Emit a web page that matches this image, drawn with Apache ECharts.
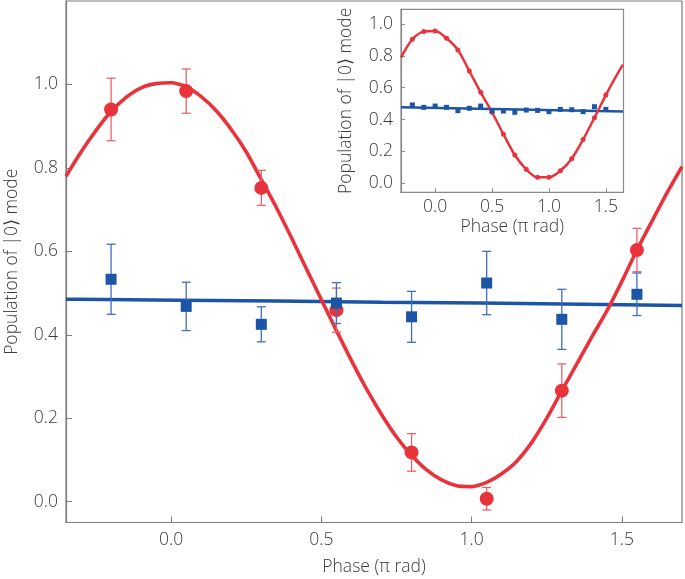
<!DOCTYPE html>
<html>
<head>
<meta charset="utf-8">
<script src="https://cdn.jsdelivr.net/npm/echarts@6/dist/echarts.min.js"></script>
<style>
html,body{margin:0;padding:0;background:#fff;}
#chart{width:685px;height:579px;}
</style>
</head>
<body>
<div id="chart"></div>
<script>
// ---- Main panel data ----
const phaseMain = [-0.2, 0.05, 0.3, 0.55, 0.8, 1.05, 1.3, 1.55];
const redMain   = [0.940, 0.984, 0.752, 0.459, 0.118, 0.007, 0.266, 0.603];
const redErr    = [0.075, 0.053, 0.042, 0.053, 0.045, 0.027, 0.064, 0.052];
const blueMain  = [0.533, 0.468, 0.425, 0.476, 0.443, 0.524, 0.437, 0.497];
const blueErr   = [0.084, 0.058, 0.042, 0.049, 0.061, 0.076, 0.072, 0.051];

const redFitX = [-0.35,-0.30,-0.25,-0.20,-0.15,-0.10,-0.05,0.00,0.05,0.10,0.15,0.20,0.25,0.30,0.35,0.40,0.45,0.50,0.55,0.60,0.65,0.70,0.75,0.80,0.85,0.90,0.95,1.00,1.05,1.10,1.15,1.20,1.25,1.30,1.35,1.40,1.45,1.50,1.55,1.60,1.65,1.70];
const redFitY = [0.780,0.838,0.890,0.935,0.969,0.992,1.002,1.004,0.995,0.971,0.937,0.892,0.838,0.772,0.705,0.633,0.558,0.484,0.410,0.338,0.270,0.209,0.155,0.111,0.076,0.052,0.038,0.036,0.046,0.067,0.097,0.142,0.200,0.266,0.330,0.395,0.457,0.528,0.603,0.672,0.740,0.803];

const blueFitX = [-0.35,-0.31,0.03,0.35,0.70,1.03,1.37,1.70];
const blueFitY = [0.485,0.483,0.481,0.478,0.476,0.473,0.470,0.469];

const mainXTicks = [0, 0.5, 1.0, 1.5];
const mainYTicks = [0, 0.2, 0.4, 0.6, 0.8, 1.0];

// ---- Inset data ----
const phaseInset = [-0.2,-0.1,0.0,0.1,0.2,0.3,0.4,0.5,0.6,0.7,0.8,0.9,1.0,1.1,1.2,1.3,1.4,1.5];
const redInset   = [0.904,0.952,0.956,0.910,0.837,0.705,0.571,0.446,0.308,0.178,0.088,0.038,0.038,0.079,0.155,0.275,0.412,0.554];
const blueInset  = [0.492,0.477,0.485,0.477,0.456,0.471,0.485,0.454,0.454,0.446,0.460,0.458,0.450,0.464,0.462,0.450,0.481,0.464];
const insetFitX  = [-0.3,-0.2,-0.1,0.0,0.1,0.2,0.3,0.4,0.5,0.6,0.7,0.8,0.9,1.0,1.1,1.2,1.3,1.4,1.5,1.6,1.65];
const insetFitRed= [0.789,0.904,0.952,0.956,0.910,0.837,0.705,0.571,0.446,0.308,0.178,0.088,0.038,0.038,0.079,0.155,0.275,0.412,0.554,0.685,0.745];
const insetBlueFitX = [-0.3, 1.65];
const insetBlueFitY = [0.478, 0.451];

const insetXTicks = [0, 0.5, 1.0, 1.5];
const insetYTicks = [0, 0.2, 0.4, 0.6, 0.8, 1.0];

// ---- Styles ----
const RED = '#e8333c', RED_ERR = '#e8626a';
const BLUE = '#1c55a6', BLUE_ERR = '#3d6fbd';
const AX = '#7d7d7d';
const TXT = '#3a3a3a';
const FONT = "'Open Sans', 'DejaVu Sans', sans-serif";

function zip(xs, ys){ return xs.map((x,i)=>[x, ys[i]]); }
function errData(xs, ys, es){ return xs.map((x,i)=>[x, ys[i]-es[i], ys[i]+es[i]]); }

function errRender(color, half){
  return function(params, api){
    const x = api.value(0), lo = api.value(1), hi = api.value(2);
    const t = api.coord([x, hi]), b = api.coord([x, lo]);
    const st = {stroke: color, lineWidth: 1.3};
    return {type:'group', children:[
      {type:'line', shape:{x1:t[0],y1:t[1],x2:b[0],y2:b[1]}, style:st},
      {type:'line', shape:{x1:t[0]-half,y1:t[1],x2:t[0]+half,y2:t[1]}, style:st},
      {type:'line', shape:{x1:b[0]-half,y1:b[1],x2:b[0]+half,y2:b[1]}, style:st}
    ]};
  };
}

function lbl(size){ return {fontSize:size, color:TXT, fontFamily:FONT, fontWeight:300}; }

const chart = echarts.init(document.getElementById('chart'), null, {renderer:'canvas'});
const option = {
  animation:false,
  backgroundColor:'#ffffff',
  grid:[
    {left:66, right:3, top:1, bottom:56.5, containLabel:false, outerBoundsMode:'none',
     show:true, borderColor:AX, borderWidth:1.2, backgroundColor:'transparent'},
    {left:401, top:9.3, width:222.5, height:183, containLabel:false, outerBoundsMode:'none',
     show:true, borderColor:'#8a8a8a', borderWidth:1.2, backgroundColor:'#ffffff', z:5}
  ],
  xAxis:[
    {type:'value', gridIndex:0, min:-0.35, max:1.70,
     axisLine:{show:true, onZero:false, lineStyle:{color:AX, width:1.2}},
     axisTick:{show:true, inside:true, length:6, customValues:mainXTicks, lineStyle:{color:AX}},
     axisLabel:Object.assign({customValues:mainXTicks, margin:8.5, formatter:v=>v.toFixed(1)}, lbl(17.5)),
     splitLine:{show:false},
     name:'Phase (π rad)', nameLocation:'middle', nameGap:36, nameTextStyle:lbl(17.5)},
    {type:'value', gridIndex:1, min:-0.3, max:1.655,
     axisLine:{show:true, onZero:false, lineStyle:{color:'#8a8a8a', width:1.2}},
     axisTick:{show:true, inside:true, length:4, customValues:insetXTicks, lineStyle:{color:'#8a8a8a'}},
     axisLabel:Object.assign({customValues:insetXTicks, margin:6, formatter:v=>v.toFixed(1)}, lbl(17.5)),
     splitLine:{show:false},
     name:'Phase (π rad)', nameLocation:'middle', nameGap:25.5, nameTextStyle:lbl(17.5), z:5}
  ],
  yAxis:[
    {type:'value', gridIndex:0, min:-0.05, max:1.2,
     axisLine:{show:true, onZero:false, lineStyle:{color:AX, width:1.2}},
     axisTick:{show:true, inside:true, length:6, customValues:mainYTicks, lineStyle:{color:AX}},
     axisLabel:Object.assign({customValues:mainYTicks, margin:8, formatter:v=>v.toFixed(1)}, lbl(17.5)),
     splitLine:{show:false},
     name:'Population of |0⟩ mode', nameLocation:'middle', nameGap:44.5, nameRotate:90, nameTextStyle:lbl(17.5)},
    {type:'value', gridIndex:1, min:-0.056, max:1.092,
     axisLine:{show:true, onZero:false, lineStyle:{color:'#8a8a8a', width:1.2}},
     axisTick:{show:true, inside:true, length:4, customValues:insetYTicks, lineStyle:{color:'#8a8a8a'}},
     axisLabel:Object.assign({customValues:insetYTicks, margin:8, formatter:v=>v.toFixed(1)}, lbl(17.5)),
     splitLine:{show:false},
     name:'Population of |0⟩ mode', nameLocation:'middle', nameGap:46, nameRotate:90, nameTextStyle:lbl(17.5), z:5}
  ],
  series:[
    {type:'line', xAxisIndex:0, yAxisIndex:0, data:zip(blueFitX, blueFitY), step:'end',
     showSymbol:false, lineStyle:{color:BLUE, width:3.5}, z:2, silent:true},
    {type:'line', xAxisIndex:0, yAxisIndex:0, data:zip(redFitX, redFitY), smooth:0.2,
     showSymbol:false, lineStyle:{color:RED, width:3.6}, z:3, silent:true},
    {type:'custom', xAxisIndex:0, yAxisIndex:0, data:errData(phaseMain, redMain, redErr),
     renderItem:errRender(RED_ERR, 4.5), z:4, silent:true},
    {type:'scatter', xAxisIndex:0, yAxisIndex:0, data:zip(phaseMain, redMain),
     symbol:'circle', symbolSize:14, itemStyle:{color:RED, opacity:1}, z:5, silent:true},
    {type:'custom', xAxisIndex:0, yAxisIndex:0, data:errData(phaseMain, blueMain, blueErr),
     renderItem:errRender(BLUE_ERR, 4.5), z:6, silent:true},
    {type:'scatter', xAxisIndex:0, yAxisIndex:0, data:zip(phaseMain, blueMain),
     symbol:'rect', symbolSize:11, itemStyle:{color:BLUE, opacity:1}, z:7, silent:true},

    {type:'line', xAxisIndex:1, yAxisIndex:1, data:zip(insetBlueFitX, insetBlueFitY),
     showSymbol:false, lineStyle:{color:BLUE, width:2.5}, z:8, silent:true},
    {type:'line', xAxisIndex:1, yAxisIndex:1, data:zip(insetFitX, insetFitRed), smooth:0.3,
     showSymbol:false, lineStyle:{color:RED, width:2.5}, z:9, silent:true},
    {type:'scatter', xAxisIndex:1, yAxisIndex:1, data:zip(phaseInset, redInset),
     symbol:'circle', symbolSize:5, itemStyle:{color:RED, opacity:1}, z:10, silent:true},
    {type:'scatter', xAxisIndex:1, yAxisIndex:1, data:zip(phaseInset, blueInset),
     symbol:'rect', symbolSize:5, itemStyle:{color:BLUE, opacity:1}, z:11, silent:true}
  ]
};
chart.setOption(option);
</script>
</body>
</html>
